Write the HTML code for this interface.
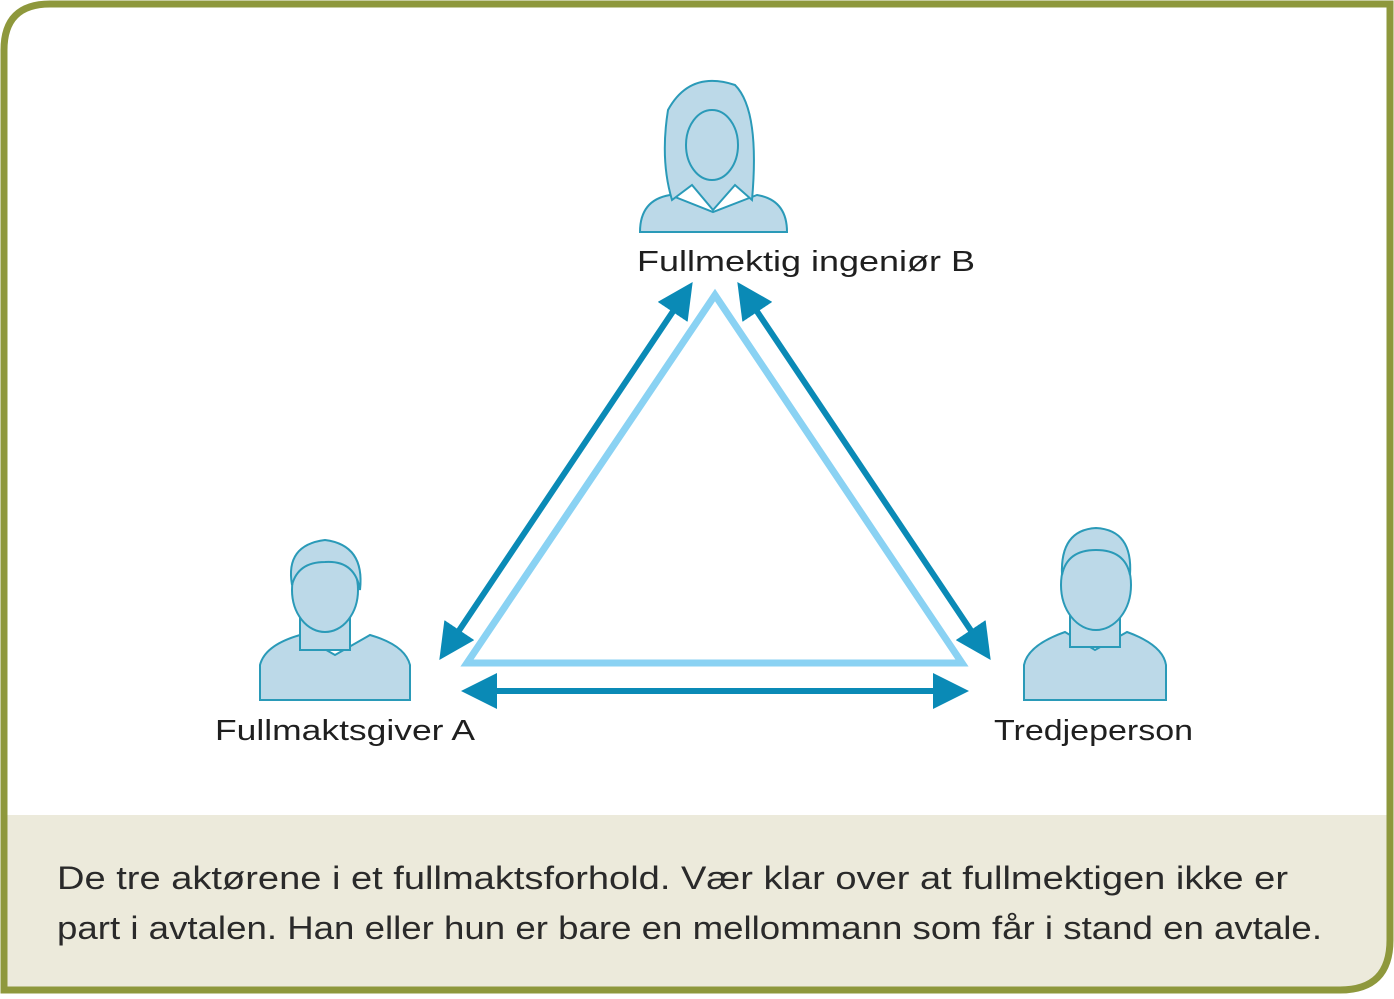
<!DOCTYPE html>
<html><head><meta charset="utf-8"><style>
body{margin:0;width:1394px;height:994px;background:#fff;overflow:hidden;font-family:"Liberation Sans",sans-serif}
</style></head><body>
<svg width="1394" height="994" xmlns="http://www.w3.org/2000/svg">
<defs>
<marker id="ah" markerWidth="6" markerHeight="6" refX="4" refY="3" orient="auto-start-reverse" markerUnits="strokeWidth">
<path d="M0,0 L6,3 L0,6 Z" fill="#0a8ab6"/></marker>
</defs>
<path d="M4,815 L1390,815 L1390,940 Q1390,990 1340,990 L4,990 Z" fill="#eceadb"/>
<path d="M4,990 L4,50 Q4,4 50,4 L1390,4 L1390,940 Q1390,990 1340,990 Z" fill="none" stroke="#8e983c" stroke-width="7"/>
<polygon points="715,295 467,663 962,663" fill="none" stroke="#8ad2f3" stroke-width="7"/>
<line x1="446" y1="650" x2="686" y2="292" stroke="#0a8ab6" stroke-width="6" marker-start="url(#ah)" marker-end="url(#ah)"/>
<line x1="744" y1="292" x2="984" y2="650" stroke="#0a8ab6" stroke-width="6" marker-start="url(#ah)" marker-end="url(#ah)"/>
<line x1="473" y1="691" x2="957" y2="691" stroke="#0a8ab6" stroke-width="6" marker-start="url(#ah)" marker-end="url(#ah)"/>
<g fill="#bcd9e8" stroke="#2a9ab8" stroke-width="2">
<path d="M640,232 Q640,200 670,195 L713,212 L757,195 Q787,200 787,232 Z"/>
<path d="M672,200 Q660,160 668,110 Q690,70 735,85 Q760,110 752,200 L735,185 L713,210 L692,185 Z"/>
<ellipse cx="712" cy="145" rx="26" ry="35"/>
<path d="M260,700 L260,665 Q265,645 300,635 L335,655 L370,635 Q405,645 410,665 L410,700 Z"/>
<rect x="300" y="615" width="50" height="35"/>
<ellipse cx="325" cy="590" rx="33" ry="42"/>
<path d="M292,585 Q285,545 325,540 Q365,545 360,590 Q355,560 325,562 Q298,562 292,585Z"/>
<path d="M1024,700 L1024,665 Q1028,645 1065,632 L1095,650 L1127,632 Q1163,645 1166,665 L1166,700 Z"/>
<rect x="1070" y="612" width="50" height="35"/>
<ellipse cx="1096" cy="585" rx="35" ry="45"/>
<path d="M1062,575 Q1060,530 1096,528 Q1133,530 1130,575 Q1125,550 1096,550 Q1067,550 1062,575Z"/>
</g>
<g font-size="29" fill="#1f1f1f">
<text x="637" y="271" textLength="338" lengthAdjust="spacingAndGlyphs">Fullmektig ingeniør B</text>
<text x="215" y="740" textLength="260" lengthAdjust="spacingAndGlyphs">Fullmaktsgiver A</text>
<text x="994" y="740" textLength="199" lengthAdjust="spacingAndGlyphs">Tredjeperson</text>
</g>
<g font-size="32" fill="#2a2a2a">
<text x="57" y="889" textLength="1231" lengthAdjust="spacingAndGlyphs">De tre aktørene i et fullmaktsforhold. Vær klar over at fullmektigen ikke er</text>
<text x="57" y="939" textLength="1265" lengthAdjust="spacingAndGlyphs">part i avtalen. Han eller hun er bare en mellommann som får i stand en avtale.</text>
</g>
</svg>
</body></html>
